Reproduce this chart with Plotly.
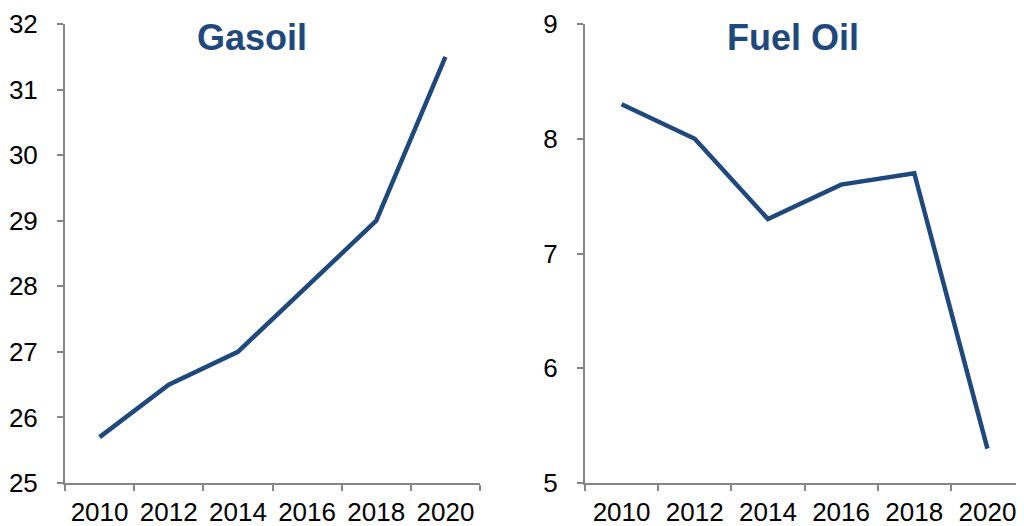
import plotly.graph_objects as go

# ---------------------------------------------------
# Data
# ---------------------------------------------------

years = ["2010", "2012", "2014", "2016", "2018", "2020"]
gasoil = [25.7, 26.5, 27.0, 28.0, 29.0, 31.5]
fuel_oil = [8.3, 8.0, 7.3, 7.6, 7.7, 5.3]

LINE = "#1F497D"
AXIS = "#868686"
FONT = "Liberation Sans, Arial, sans-serif"

# page has an 8px body margin, so the figure is 1016x518
W, H, OFF = 1016, 518, 8


def px_x(v):
    return (v - OFF) / W


def px_y(v):
    return 1 - (v - OFF) / H


fig = go.Figure()

fig.add_trace(go.Scatter(x=years, y=gasoil, mode="lines",
                         line=dict(color=LINE, width=4.5),
                         xaxis="x", yaxis="y", showlegend=False))
fig.add_trace(go.Scatter(x=years, y=fuel_oil, mode="lines",
                         line=dict(color=LINE, width=4.5),
                         xaxis="x2", yaxis="y2", showlegend=False))

y_dom = [px_y(483), px_y(24)]

xcommon = dict(
    type="category",
    range=[-0.5, 5.5],
    tickson="boundaries",
    ticks="outside",
    ticklen=6,
    tickcolor=AXIS,
    tickwidth=2,
    showline=True,
    linecolor=AXIS,
    linewidth=2,
    showgrid=False,
    zeroline=False,
    automargin=False,
    tickfont=dict(size=26, color="black", family=FONT),
    ticklabelstandoff=5,
)

ycommon = dict(
    ticks="outside",
    ticklen=6,
    tickcolor=AXIS,
    tickwidth=2,
    showline=True,
    linecolor=AXIS,
    linewidth=2,
    showgrid=False,
    zeroline=False,
    automargin=False,
    tickfont=dict(size=26, color="black", family=FONT),
    ticklabelstandoff=14,
    domain=y_dom,
)

fig.update_layout(
    width=W,
    height=H,
    margin=dict(l=0, r=0, t=0, b=0),
    paper_bgcolor="white",
    plot_bgcolor="white",
    xaxis=dict(xcommon, domain=[px_x(65), px_x(480)], anchor="y"),
    yaxis=dict(ycommon, range=[25, 32], dtick=1, anchor="x"),
    xaxis2=dict(xcommon, domain=[px_x(585), 1.0], anchor="y2"),
    yaxis2=dict(ycommon, range=[5, 9], dtick=1, anchor="x2"),
    annotations=[
        dict(text="<b>Gasoil</b>", x=px_x(252), y=px_y(37),
             xref="paper", yref="paper", showarrow=False,
             xanchor="center", yanchor="middle",
             font=dict(size=36, color=LINE, family=FONT)),
        dict(text="<b>Fuel Oil</b>", x=px_x(793), y=px_y(37),
             xref="paper", yref="paper", showarrow=False,
             xanchor="center", yanchor="middle",
             font=dict(size=36, color=LINE, family=FONT)),
    ],
)

fig.write_html("out.html")
